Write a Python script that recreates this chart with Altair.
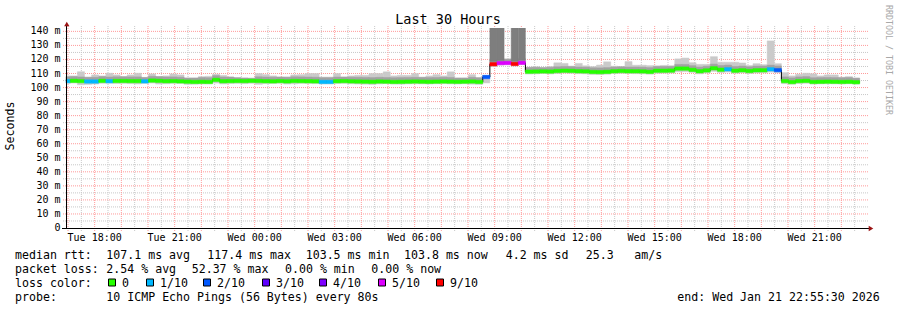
import altair as alt
import pandas as pd

# ---------------- data ----------------
START = 16.925      # Tue 16:55:30  (hours since Tue 00:00)
END = 46.925        # Wed 22:55:30
FIRST_EDGE = 17.086 # first full 16-minute consolidation step
BIN_H = 16 / 60
Y_TOP = 142.4

median = [
    104.6, 104.8, 104.6, 104.3, 104.3, 104.8, 104.5, 104.7, 104.7, 104.6,
    104.6, 104.4, 105.0, 104.8, 104.5, 104.6, 104.4, 104.2, 104.0, 104.1,
    104.0, 105.5, 104.5, 104.6, 104.7, 104.6, 104.8, 104.7, 104.5, 104.4,
    104.6, 104.4, 104.7, 104.6, 104.5, 104.4, 104.0, 104.0, 104.5, 104.6,
    104.4, 104.3, 104.2, 104.1, 104.3, 104.2, 104.0, 104.1, 104.2, 104.3,
    104.2, 104.1, 104.2, 104.3, 104.2, 104.1, 104.2, 104.3, 104.0,
    107.5, 116.6, 117.4, 117.5, 116.8, 117.6,
    111.3, 111.4, 111.5, 111.4, 111.8, 112.0, 111.9, 111.6, 111.5, 111.1,
    111.0, 111.2, 111.6, 111.8, 111.6, 111.6, 111.5, 111.2, 112.0, 112.0,
    112.1, 113.5, 113.5, 112.6, 111.6, 112.2, 113.7, 112.7, 113.0, 112.0,
    112.3, 111.8, 112.3, 112.3, 113.0, 112.4,
    104.6, 103.9, 104.6, 104.8, 104.0, 104.1, 104.2, 104.1, 104.0, 104.1, 103.8,
]

smoke_hi = [
    108.3, 108.3, 111.3, 107.4, 109.0, 108.3, 110.2, 109.0, 107.8, 109.0,
    110.2, 107.2, 109.7, 107.8, 108.3, 109.7, 109.0, 106.8, 106.8, 107.8,
    108.0, 109.5, 108.7, 107.5, 107.0, 106.8, 106.6, 110.0, 109.2, 108.3,
    107.5, 107.5, 109.0, 109.2, 110.0, 110.0, 107.5, 107.5, 110.0, 107.5,
    108.3, 108.7, 108.7, 110.0, 110.0, 111.2, 108.3, 108.7, 108.7, 110.0,
    107.5, 108.3, 109.2, 108.3, 111.2, 106.8, 106.8, 109.2, 107.0,
    108.5, 120.5, 120.5, 120.3, 120.5, 120.5,
    114.5, 114.8, 114.2, 115.0, 117.6, 117.2, 115.3, 117.2, 115.5, 115.0,
    116.0, 118.3, 115.2, 114.8, 118.5, 115.9, 115.9, 115.6, 115.5, 115.8,
    115.5, 120.4, 121.0, 117.7, 116.5, 116.5, 122.0, 118.0, 118.0, 118.0,
    117.5, 115.7, 117.0, 116.3, 133.2, 117.0,
    110.6, 108.3, 109.5, 110.2, 109.8, 108.3, 109.0, 109.0, 107.4, 107.8, 106.7,
]

smoke_lo = [
    103.0, 103.2, 102.0, 102.2, 102.5, 103.0, 103.1, 102.9, 103.0, 102.8,
    102.6, 103.0, 103.2, 102.5, 102.7, 103.0, 102.9, 102.3, 102.4, 102.5,
    102.6, 103.2, 102.6, 102.9, 103.0, 102.8, 103.0, 102.3, 102.8, 102.9,
    103.1, 102.5, 102.7, 103.0, 102.9, 102.8, 102.6, 102.6, 102.9, 103.0,
    102.7, 102.5, 102.4, 102.2, 102.6, 102.8, 102.5, 102.4, 102.6, 102.7,
    102.6, 102.5, 102.7, 102.8, 102.6, 102.5, 102.7, 102.4, 102.3,
    103.3, 115.0, 116.0, 116.3, 115.4, 116.4,
    109.6, 109.8, 110.0, 109.7, 110.0, 110.3, 110.1, 109.9, 109.8, 109.4,
    109.3, 109.5, 110.0, 110.1, 110.0, 109.9, 109.8, 109.5, 110.1, 110.2,
    110.3, 111.2, 111.3, 110.8, 109.8, 110.3, 111.5, 110.7, 111.0, 110.2,
    110.5, 110.0, 110.4, 110.5, 111.0, 110.6,
    102.8, 102.4, 102.9, 103.0, 102.5, 102.6, 102.7, 102.6, 102.6, 102.7, 102.5,
]

loss = [
    1, 0, 0, 1, 1, 0, 1, 0, 0, 0,
    0, 1, 0, 0, 0, 0, 0, 0, 0, 0,
    0, 0, 0, 0, 0, 0, 0, 0, 0, 0,
    0, 0, 0, 0, 0, 0, 1, 1, 0, 0,
    0, 0, 0, 0, 0, 0, 0, 0, 0, 0,
    0, 0, 0, 0, 0, 0, 0, 0, 0,
    2, 9, 5, 5, 9, 5,
    0, 0, 0, 0, 0, 0, 0, 0, 0, 0,
    0, 0, 0, 0, 0, 0, 0, 0, 0, 0,
    0, 0, 0, 0, 0, 0, 0, 0, 1, 0,
    0, 0, 0, 0, 1, 2,
    0, 0, 0, 0, 0, 0, 0, 0, 0, 0, 0,
]

# bins where most pings were lost: dense dark smoke up past the top
heavy_bins = [60, 61, 63, 64]
heavy_lo = [118.6, 119.3, 118.8, 119.5]
heavy_hi = [160.0, 160.0, 160.0, 160.0]

loss_levels = [0, 1, 2, 3, 4, 5, 9]
loss_names = ["0", "1/10", "2/10", "3/10", "4/10", "5/10", "9/10"]
loss_colors = ["#26ff00", "#00b8ff", "#0059ff", "#5e00ff", "#7e00ff", "#dd00ff", "#ff0000"]

y_ticks = list(range(0, 141, 10))
y_tick_labels = ["0\u00a0\u00a0"] + [f"{v} m" for v in y_ticks[1:]]
y_minor = list(range(5, 141, 5))
x_label_hours = list(range(18, 46, 3))
x_tick_labels = ["Tue 18:00", "Tue 21:00", "Wed 00:00", "Wed 03:00", "Wed 06:00",
                 "Wed 09:00", "Wed 12:00", "Wed 15:00", "Wed 18:00", "Wed 21:00"]
x_grid = [h / 2 for h in range(34, 94)]

stats_rows = [
    ["median rtt:", "107.1 ms avg", "117.4 ms max", "103.5 ms min", "103.8 ms now", "4.2 ms sd", "25.3", "am/s"],
    ["packet loss:", "2.54 % avg", "52.37 % max", "0.00 % min", "0.00 % now"],
]
probe_text = ["probe:", "10 ICMP Echo Pings (56 Bytes) every 80s"]
end_text = "end: Wed Jan 21 22:55:30 2026"
title_text = "Last 30 Hours"
y_title = "Seconds"
watermark = "RRDTOOL / TOBI OETIKER"

# ---------------- tables ----------------
n = len(median)
bin_start = [START] + [FIRST_EDGE + k * BIN_H for k in range(n - 1)]
bin_end = bin_start[1:] + [FIRST_EDGE + (n - 1) * BIN_H]
name_of = dict(zip(loss_levels, loss_names))

BAND = 1.2     # half thickness of the median stripe
INNER = 3.0    # darker smoke just above the median

df = pd.DataFrame({
    "t0": bin_start, "t1": bin_end, "med": median,
    "lo": smoke_lo, "hi": smoke_hi,
    "loss": [name_of[v] for v in loss],
})
df["b_lo"] = df["med"] - BAND
df["b_hi"] = df["med"] + BAND
df["i_lo"] = df["med"]
df["i_hi"] = [min(h, m + INNER) for h, m in zip(smoke_hi, median)]

heavy = pd.DataFrame({
    "t0": [bin_start[b] for b in heavy_bins],
    "t1": [bin_end[b] for b in heavy_bins],
    "lo": heavy_lo, "hi": heavy_hi,
})

line_df = pd.DataFrame({"t": bin_start + [bin_end[-1]], "v": median + [median[-1]]})
vgrid = pd.DataFrame({"h": x_grid, "major": [float(h).is_integer() for h in x_grid]})
hgrid = pd.DataFrame({"v": y_minor, "major": [v % 10 == 0 for v in y_minor]})
xlab = pd.DataFrame({"h": x_label_hours, "lab": x_tick_labels})
ylab = pd.DataFrame({"v": y_ticks, "lab": y_tick_labels})
one = pd.DataFrame({"k": [0]})

# ---------------- layout ----------------
W, H = 800, 200
PAD_L, PAD_T = 66, 28
FONT = "DejaVu Sans Mono"
LEG_FS = 11.6
MAJOR = "#ff9a9a"
MINOR = "#c8c8c8"

xs = alt.Scale(domain=[START, END], nice=False, zero=False)
ys = alt.Scale(domain=[0, Y_TOP], nice=False, zero=False)

minor_v = alt.Chart(vgrid).transform_filter("!datum.major").mark_rule(
    color=MINOR, strokeWidth=1, strokeDash=[1, 1]
).encode(x=alt.X("h:Q", scale=xs, axis=None), y=alt.value(-2), y2=alt.value(H + 3))

major_v = alt.Chart(vgrid).transform_filter("datum.major").mark_rule(
    color=MAJOR, strokeWidth=1, strokeDash=[1, 1]
).encode(x=alt.X("h:Q", scale=xs, axis=None), y=alt.value(-2), y2=alt.value(H + 3))

minor_h = alt.Chart(hgrid).transform_filter("!datum.major").mark_rule(
    color=MINOR, strokeWidth=1, strokeDash=[1, 1]
).encode(y=alt.Y("v:Q", scale=ys, axis=None), x=alt.value(-3), x2=alt.value(W + 3))

major_h = alt.Chart(hgrid).transform_filter("datum.major").mark_rule(
    color=MAJOR, strokeWidth=1, strokeDash=[1, 1]
).encode(y=alt.Y("v:Q", scale=ys, axis=None), x=alt.value(-3), x2=alt.value(W + 3))

xlabels = alt.Chart(xlab).mark_text(font=FONT, fontSize=10, align="center", baseline="alphabetic", color="#000000").encode(
    x=alt.X("h:Q", scale=xs, axis=None), y=alt.value(H + 13), text="lab:N")
ylabels = alt.Chart(ylab).mark_text(font=FONT, fontSize=10, align="right", baseline="middle", color="#000000").encode(
    y=alt.Y("v:Q", scale=ys, axis=None), x=alt.value(-5.5), text="lab:N")

base = alt.Chart(df)
smoke = base.mark_rect(color="#cacaca", stroke="#cacaca", strokeWidth=0.5).encode(
    x=alt.X("t0:Q", scale=xs, axis=None), x2="t1:Q",
    y=alt.Y("lo:Q", scale=ys, axis=None), y2="hi:Q",
)
inner = base.mark_rect(color="#a2a2a2", stroke="#a2a2a2", strokeWidth=0.5).encode(
    x=alt.X("t0:Q", scale=xs, axis=None), x2="t1:Q",
    y=alt.Y("i_lo:Q", scale=ys, axis=None), y2="i_hi:Q",
)
heavy_l = alt.Chart(heavy).mark_rect(color="#7e7e7e", stroke="#7e7e7e", strokeWidth=0.5, clip=True).encode(
    x=alt.X("t0:Q", scale=xs, axis=None), x2="t1:Q",
    y=alt.Y("lo:Q", scale=ys, axis=None), y2="hi:Q",
)
med_line = alt.Chart(line_df).mark_line(interpolate="step-after", color="#000000", strokeWidth=1).encode(
    x=alt.X("t:Q", scale=xs, axis=None), y=alt.Y("v:Q", scale=ys, axis=None),
)
loss_scale = alt.Scale(domain=loss_names, range=loss_colors)
band = base.mark_rect(strokeWidth=0.5).encode(
    x=alt.X("t0:Q", scale=xs, axis=None), x2="t1:Q",
    y=alt.Y("b_lo:Q", scale=ys, axis=None), y2="b_hi:Q",
    color=alt.Color("loss:N", scale=loss_scale, legend=None),
    stroke=alt.Stroke("loss:N", scale=loss_scale, legend=None),
)

ARROW = "#9b1414"
y_axis_line = alt.Chart(one).mark_rule(color="#000000", strokeWidth=1).encode(
    x=alt.value(0.5), y=alt.value(H + 0.5), y2=alt.value(-2))
x_axis_line = alt.Chart(one).mark_rule(color="#000000", strokeWidth=1).encode(
    x=alt.value(-4), x2=alt.value(W + 4), y=alt.value(H + 0.5))
y_arrow = alt.Chart(one).mark_point(shape="triangle-up", filled=True, size=28, color=ARROW, opacity=1).encode(
    x=alt.value(0.8), y=alt.value(-4))
x_arrow = alt.Chart(one).mark_point(shape="triangle-right", filled=True, size=28, color=ARROW, opacity=1).encode(
    x=alt.value(W + 5), y=alt.value(H + 0.5))


def txt(s, x_abs, y_abs, size=LEG_FS, align="left", angle=0, color="#000000", baseline="alphabetic"):
    return alt.Chart(one).mark_text(
        text=s, font=FONT, fontSize=size, align=align, baseline=baseline, angle=angle, color=color
    ).encode(x=alt.value(x_abs - PAD_L), y=alt.value(y_abs - PAD_T))


texts = [
    txt(title_text, 448, 24, size=13.5, align="center"),
    txt(y_title, 10.5, 126, size=LEG_FS, align="center", angle=270, baseline="middle"),
    txt(watermark, 888, 5, size=8.3, align="left", angle=90, baseline="middle", color="#a8a8a8"),
]
row1_x = [15, 106.3, 207.3, 305.7, 404, 505.7, 585.7, 634.3]
row2_x = [15, 106.3, 191.7, 285, 371.3]
for s, xx in zip(stats_rows[0], row1_x):
    texts.append(txt(s, xx, 258.5))
for s, xx in zip(stats_rows[1], row2_x):
    texts.append(txt(s, xx, 272.5))
texts.append(txt("loss color:", 15, 286.5))
sq_left = [108, 146, 203, 262, 319, 378, 436]
for name, col, L in zip(loss_names, loss_colors, sq_left):
    texts.append(
        alt.Chart(one).mark_rect(color=col, stroke="#000000", strokeWidth=1).encode(
            x=alt.value(L - PAD_L + 0.5), x2=alt.value(L - PAD_L + 7.5),
            y=alt.value(279 - PAD_T), y2=alt.value(286 - PAD_T))
    )
    texts.append(txt(name, L + 14, 286.5))
texts.append(txt(probe_text[0], 15, 300.5))
texts.append(txt(probe_text[1], 106.3, 300.5))
texts.append(txt(end_text, 677.3, 300.5))

chart = alt.layer(
    minor_v, minor_h, major_v, major_h,
    smoke, inner, heavy_l, med_line, band,
    y_axis_line, x_axis_line, y_arrow, x_arrow,
    xlabels, ylabels,
    *texts,
).properties(
    width=W, height=H,
    padding={"left": PAD_L, "top": PAD_T, "right": 897 - PAD_L - W, "bottom": 310 - PAD_T - H},
    autosize=alt.AutoSizeParams(type="none"),
    background="#ffffff",
).configure_view(strokeWidth=0)

chart.save("out.html", embed_options={"renderer": "svg", "actions": False})
